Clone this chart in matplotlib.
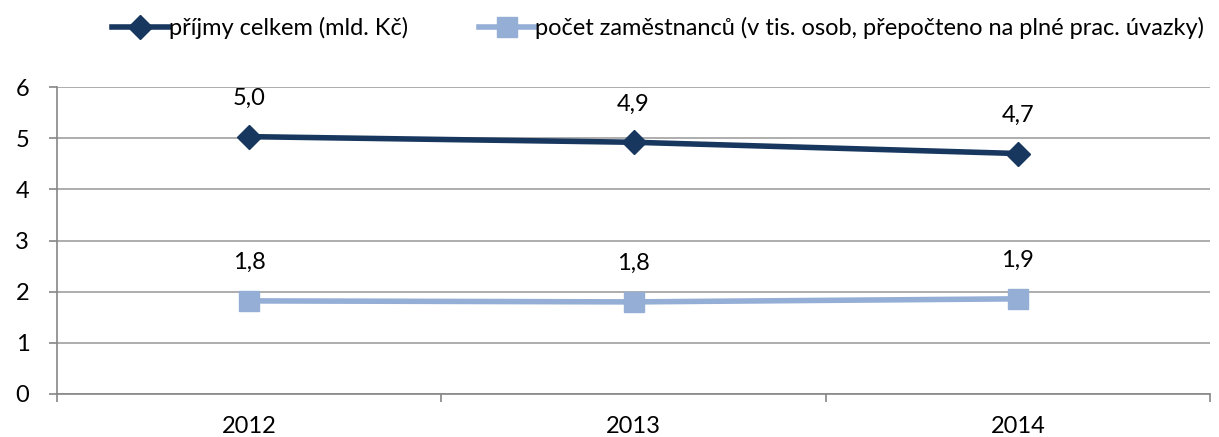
import matplotlib
matplotlib.use("Agg")
import matplotlib.pyplot as plt
import numpy as np

# Data
years = ["2012", "2013", "2014"]
prijmy = [5.03, 4.92, 4.70]
zamestnanci = [1.82, 1.80, 1.86]
prijmy_labels = ["5,0", "4,9", "4,7"]
zam_labels = ["1,8", "1,8", "1,9"]

plt.rcParams['font.family'] = ['Lato', 'DejaVu Sans']

fig = plt.figure(figsize=(12.19, 4.37), dpi=100)
ax = fig.add_axes([0.0468, 0.0984, 0.9458, 0.7025])

x = np.arange(len(years))
dark = "#17375E"
light = "#95AED6"
fs = 17

ax.plot(x, prijmy, color=dark, lw=4, marker="D", ms=12, label="příjmy celkem (mld. Kč)")
ax.plot(x, zamestnanci, color=light, lw=4, marker="s", ms=14.5,
        label="počet zaměstnanců (v tis. osob, přepočteno na plné prac. úvazky)")

# data labels above points
for xi, v, t in zip(x, prijmy, prijmy_labels):
    ax.annotate(t, (xi, v), xytext=(0, 20), textcoords="offset points",
                ha="center", va="bottom", fontsize=fs)
for xi, v, t in zip(x, zamestnanci, zam_labels):
    ax.annotate(t, (xi, v), xytext=(0, 20), textcoords="offset points",
                ha="center", va="bottom", fontsize=fs)

ax.set_xlim(-0.5, 2.5)
ax.set_ylim(0, 6)
ax.set_yticks(range(0, 7))
ax.set_xticks(x)
ax.set_xticklabels(years)
ax.set_xticks([-0.5, 0.5, 1.5, 2.5], minor=True)
ax.tick_params(axis="x", which="major", length=0, pad=16, labelsize=fs)
ax.tick_params(axis="x", which="minor", length=6, color="#868686", width=1.2)
ax.tick_params(axis="y", length=6, color="#868686", width=1.2, labelsize=fs, pad=14)
ax.grid(axis="y", color="#A0A0A0", lw=1.2)
ax.set_axisbelow(True)
for s in ["top", "right"]:
    ax.spines[s].set_visible(False)
for s in ["left", "bottom"]:
    ax.spines[s].set_color("#868686")
    ax.spines[s].set_linewidth(1.2)

fig.legend(loc="upper center", bbox_to_anchor=(0.54, 1.01), ncol=2, frameon=False,
           fontsize=fs, handlelength=2.4, handletextpad=0.0, columnspacing=3.0)

fig.savefig("out.png", dpi=100)
